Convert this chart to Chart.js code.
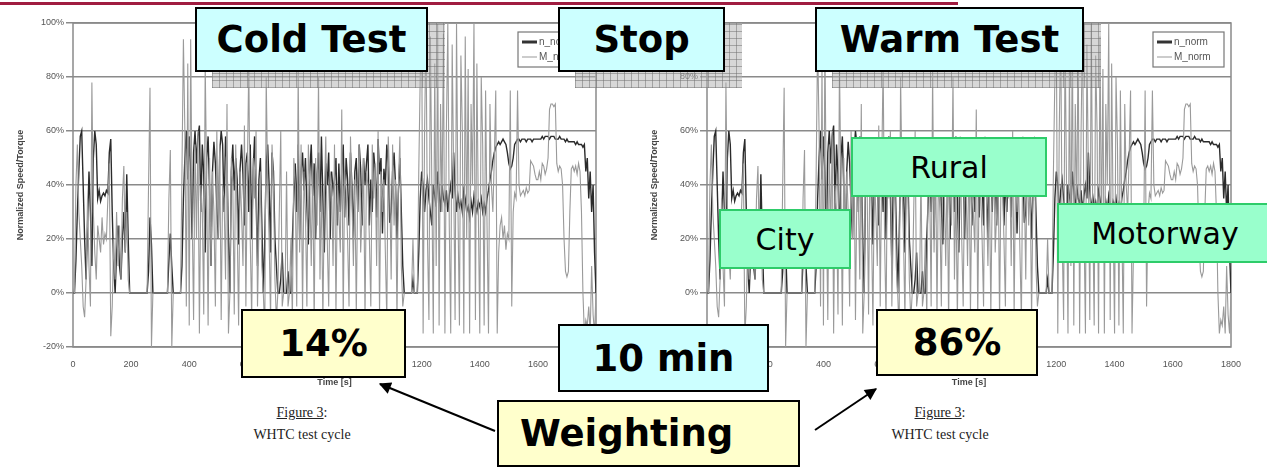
<!DOCTYPE html>
<html>
<head>
<meta charset="utf-8">
<script src="https://cdn.jsdelivr.net/npm/chart.js@4.4.1/dist/chart.umd.min.js"></script>
<style>
  html, body { margin: 0; padding: 0; background: #fff; }
  body { width: 1267px; height: 467px; position: relative; overflow: hidden; font-family: "DejaVu Sans", Verdana, sans-serif; }
  canvas { position: absolute; top: 0; }
  #topRule { position: absolute; left: 0; top: 2px; width: 958px; height: 3px; background: #a01c40; }
  .shadow { position: absolute; box-sizing: border-box;
    background-color: rgba(175,175,175,0.5);
    background-image: repeating-linear-gradient(0deg, rgba(110,110,110,0.5) 0 1px, transparent 1px 7px),
                      repeating-linear-gradient(90deg, rgba(110,110,110,0.5) 0 1px, transparent 1px 7px); }
  .box { position: absolute; box-sizing: border-box; display: flex; align-items: center; justify-content: center; color: #000; white-space: nowrap; }
  .cyan { background: #ccffff; border: 2px solid #000; font-weight: bold; font-size: 37px; }
  .yellow { background: #ffffcc; border: 2px solid #000; font-weight: bold; font-size: 37px; }
  .green { background: #99ffcc; border: 2px solid #2ecc6a; font-size: 30px; }
  .cap { position: absolute; width: 200px; text-align: center; font-family: "Liberation Serif", "Times New Roman", serif; font-size: 14px; line-height: 22px; color: #222; }
  .cap u { text-decoration: underline; }
  svg { position: absolute; left: 0; top: 0; }
</style>
</head>
<body>
<div id="topRule"></div>
<canvas id="cold" width="630" height="400" style="left:0px"></canvas>
<canvas id="warm" width="630" height="400" style="left:634px"></canvas>

<div class="cap" style="left:202px; top:402px;"><u>Figure 3</u>:<br>WHTC test cycle</div>
<div class="cap" style="left:840px; top:402px;"><u>Figure 3</u>:<br>WHTC test cycle</div>

<div class="shadow" style="left:212px; top:23px; width:233px; height:65px;"></div>
<div class="box cyan" style="left:195px; top:7px; width:233px; height:65px;">Cold Test</div>
<div class="shadow" style="left:575px; top:23px; width:167px; height:65px;"></div>
<div class="box cyan" style="left:558px; top:7px; width:167px; height:65px;">Stop</div>
<div class="shadow" style="left:832px; top:23px; width:269px; height:65px;"></div>
<div class="box cyan" style="left:815px; top:7px; width:269px; height:65px;">Warm Test</div>

<div class="box green" style="left:851px; top:137px; width:196px; height:60px;">Rural</div>
<div class="box green" style="left:719px; top:209px; width:132px; height:60px;">City</div>
<div class="box green" style="left:1057px; top:203px; width:216px; height:60px;">Motorway</div>

<div class="box yellow" style="left:241px; top:309px; width:165px; height:69px;">14%</div>
<div class="box cyan" style="left:558px; top:324px; width:211px; height:68px;">10 min</div>
<div class="box yellow" style="left:876px; top:309px; width:162px; height:67px;">86%</div>
<div class="box yellow" style="left:497px; top:400px; width:303px; height:67px; justify-content:flex-start; padding-left:21px;">Weighting</div>

<svg width="1267" height="467">
  <defs>
    <marker id="head" viewBox="0 0 10 10" refX="9" refY="5" markerWidth="7" markerHeight="6" orient="auto">
      <path d="M0,0 L10,5 L0,10 z" fill="#000"/>
    </marker>
  </defs>
  <line x1="495" y1="431" x2="380" y2="384" stroke="#000" stroke-width="2" marker-end="url(#head)"/>
  <line x1="815" y1="430" x2="876" y2="389" stroke="#000" stroke-width="2" marker-end="url(#head)"/>
</svg>

<script>
// WHTC cycle, every 5 s (0..1800 s)
const SAMPLE_STEP_S = 5;

const N_NORM = [
  0,0,12,30,45,58,60,40,20,5,25,45,30,10,50,60,55,35,38,34,
  36,37,36,38,37,52,57,30,10,0,15,25,10,5,20,30,15,44,20,0,
  0,0,0,0,0,0,0,0,0,0,0,0,8,28,18,0,0,0,0,0,
  0,0,0,0,0,0,12,22,10,0,0,0,0,0,0,10,35,50,60,42,
  58,45,20,52,60,48,58,62,30,55,44,15,50,58,38,10,45,56,48,32,
  20,52,60,55,30,58,48,20,0,45,55,38,50,42,18,46,55,44,25,48,
  52,30,55,20,45,58,36,10,42,50,25,0,20,48,55,40,15,52,45,20,
  10,0,0,5,15,0,0,0,8,0,0,20,35,48,30,55,20,45,52,38,
  50,32,18,45,55,36,48,20,44,52,30,58,35,15,48,40,52,20,45,38,
  42,50,25,48,30,45,55,28,50,42,25,52,40,20,45,50,30,55,46,25,
  50,40,48,55,25,42,30,52,45,28,57,44,50,22,46,40,55,48,26,30,
  45,52,40,20,38,50,30,10,0,0,0,0,0,0,5,0,0,0,15,35,
  45,40,30,38,42,35,30,25,40,36,32,45,38,30,40,35,33,38,30,36,
  40,35,52,38,30,36,32,34,30,38,35,30,32,28,34,30,36,32,30,34,
  32,35,30,33,30,35,38,42,45,49,52,54,55,56,55,56,57,56,55,52,
  48,46,47,50,55,56,57,57,56,57,57,57,56,57,57,57,56,57,57,57,
  57,57,57,58,57,58,58,58,57,58,58,58,57,57,57,58,57,57,57,56,
  57,56,56,56,56,56,55,56,55,55,55,54,55,45,50,35,45,30,40,15,
  0
];

const M_NORM = [
  0,0,40,55,30,20,10,-5,-9,5,35,10,-5,78,30,15,5,25,20,15,
  28,18,22,20,35,48,-16,-5,20,5,30,10,25,5,35,47,15,30,5,0,
  0,0,0,0,0,0,0,0,0,0,0,0,40,76,-20,0,0,0,0,0,
  0,0,0,0,0,0,35,53,-20,0,0,0,0,0,0,45,94,60,-5,85,
  -12,94,30,-10,55,20,60,-15,40,30,-8,85,40,-12,50,10,45,30,-5,60,
  20,55,-10,40,35,5,70,-15,0,50,40,-8,55,25,-12,45,30,10,62,-5,
  45,85,20,-10,50,35,60,-5,25,45,10,0,-15,80,40,20,-10,55,40,5,
  -10,0,30,60,-5,0,0,45,-5,0,20,-10,50,40,-5,82,15,55,-8,45,
  30,-5,55,40,10,48,-12,50,25,80,5,40,-10,35,58,20,-5,45,40,10,
  55,-8,40,30,15,68,-10,45,38,20,-5,58,35,10,42,-8,40,55,15,30,
  50,-10,45,40,20,-5,55,35,48,10,60,-8,45,30,42,15,-10,58,40,5,
  55,25,42,-10,40,58,10,-5,0,0,0,0,0,0,20,0,0,0,45,80,
  100,-15,60,98,20,-10,95,40,-15,85,10,100,-12,70,30,96,-15,60,100,25,
  -15,92,45,-10,100,30,-12,88,60,-15,95,20,83,-15,70,40,100,-10,85,30,
  -15,80,55,-12,75,25,-15,70,40,30,50,75,-15,15,25,28,20,25,16,22,
  20,75,-5,30,37,35,75,40,36,37,38,36,39,37,38,49,48,47,44,42,
  42,45,42,48,47,44,46,50,68,70,70,69,70,48,45,47,46,40,20,8,
  6,8,30,46,47,45,47,44,48,45,30,0,-15,-10,-12,-5,-15,10,-8,-15,
  0
];

const TIME_S = N_NORM.map((_, i) => i * SAMPLE_STEP_S);
const X_TICKS = { min: 0, max: 1800, step: 200 };
const Y_TICKS = { min: -20, max: 100, step: 20 };

const tickFont = { family: '"Liberation Sans", Arial, sans-serif', size: 9 };
const titleFont = { family: '"Liberation Sans", Arial, sans-serif', size: 9, weight: 'bold' };

function points(values) {
  return values.map((v, i) => ({ x: TIME_S[i], y: v }));
}

// plot frame + small boxed legend in the top right corner
const frameAndLegend = {
  id: 'frameAndLegend',
  beforeDatasetsDraw(chart) {
    const { ctx, chartArea: a } = chart;
    ctx.save();
    ctx.strokeStyle = '#8a8a8a';
    ctx.lineWidth = 1.5;
    ctx.strokeRect(a.left, a.top, a.right - a.left, a.bottom - a.top);
    ctx.restore();
  },
  afterDatasetsDraw(chart) {
    const { ctx, chartArea: a } = chart;
    const w = 71, h = 35;
    const x = a.right - 7 - w, y = a.top + 9;
    ctx.save();
    ctx.fillStyle = '#fff';
    ctx.fillRect(x, y, w, h);
    ctx.strokeStyle = '#777';
    ctx.lineWidth = 1.2;
    ctx.strokeRect(x, y, w, h);
    ctx.font = '10px "Liberation Sans", Arial, sans-serif';
    ctx.textBaseline = 'middle';
    chart.data.datasets.forEach((ds, i) => {
      const ly = y + 10 + i * 15;
      ctx.strokeStyle = i === 0 ? '#333' : '#999';
      ctx.lineWidth = i === 0 ? 3 : 1;
      ctx.beginPath();
      ctx.moveTo(x + 4, ly);
      ctx.lineTo(x + 19, ly);
      ctx.stroke();
      ctx.fillStyle = '#555';
      ctx.fillText(ds.label, x + 21, ly);
    });
    ctx.restore();
  }
};

function makeChart(id, padRight) {
  return new Chart(document.getElementById(id), {
    type: 'line',
    data: {
      datasets: [
        // speed drawn first, torque on top of it (as in the source figure)
        { label: 'n_norm', data: points(N_NORM), borderColor: '#2b2b2b', borderWidth: 1.4, pointRadius: 0, tension: 0, order: 1 },
        { label: 'M_norm', data: points(M_NORM), borderColor: '#9a9a9a', borderWidth: 1.1, pointRadius: 0, tension: 0, order: 0 }
      ]
    },
    options: {
      responsive: false,
      animation: false,
      events: [],
      layout: { padding: { left: 0, top: 23, right: padRight, bottom: 0 } },
      plugins: { legend: { display: false }, tooltip: { enabled: false } },
      scales: {
        x: {
          type: 'linear',
          min: X_TICKS.min, max: X_TICKS.max,
          ticks: { stepSize: X_TICKS.step, padding: 12, font: tickFont, color: '#555', maxRotation: 0, callback: v => String(v) },
          grid: { display: false, drawTicks: false },
          border: { display: false },
          title: { display: true, text: 'Time [s]', font: titleFont, color: '#444', padding: { top: 0, bottom: 12 } },
          afterFit(s) { s.height = 53; }
        },
        y: {
          min: Y_TICKS.min, max: Y_TICKS.max,
          ticks: { stepSize: Y_TICKS.step, padding: 2, font: tickFont, color: '#555', callback: v => v + '%' },
          grid: { color: '#8a8a8a', lineWidth: 1.5, tickLength: 7 },
          border: { display: false },
          title: { display: true, text: 'Normalized Speed/Torque', font: titleFont, color: '#444', padding: { top: 15, bottom: 0 } },
          afterFit(s) { s.width = 73; }
        }
      }
    },
    plugins: [frameAndLegend]
  });
}

makeChart('cold', 34);
makeChart('warm', 33);
</script>
</body>
</html>
